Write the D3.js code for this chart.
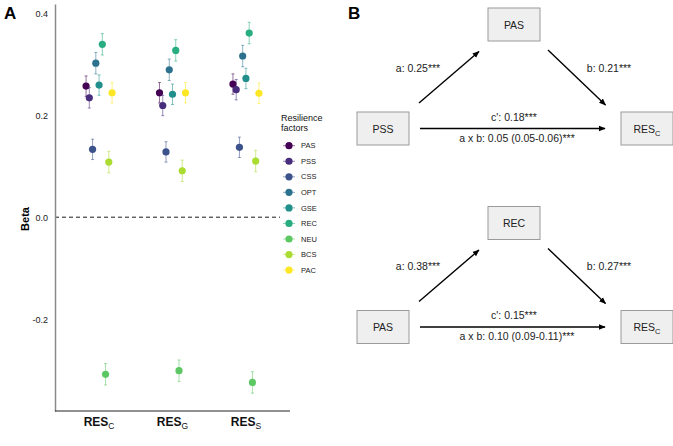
<!DOCTYPE html>
<html>
<head>
<meta charset="utf-8">
<script src="https://cdn.jsdelivr.net/npm/d3@7"></script>
<style>
  body { margin: 0; background: #fff; }
  svg { font-family: "Liberation Sans", Arial, sans-serif; }
</style>
</head>
<body>
<svg id="chart" width="673" height="446"></svg>
<script>
// panel A data
const outcomes = ['C', 'G', 'S'];
const factors = ['PAS', 'PSS', 'CSS', 'OPT', 'GSE', 'REC', 'NEU', 'BCS', 'PAC'];
const colors = ['#440154', '#472D7B', '#3B528B', '#2C728E', '#21908C', '#27AD81', '#5DC863', '#AADC32', '#FDE725'];
const betaC = [0.257, 0.234, 0.133, 0.302, 0.259, 0.339, -0.308, 0.108, 0.244];
const betaG = [0.244, 0.219, 0.128, 0.289, 0.241, 0.327, -0.301, 0.091, 0.244];
const betaS = [0.261, 0.250, 0.137, 0.316, 0.272, 0.361, -0.324, 0.110, 0.243];
const errC = [0.020, 0.020, 0.020, 0.021, 0.020, 0.021, 0.021, 0.021, 0.020];
const errG = [0.020, 0.020, 0.020, 0.021, 0.020, 0.021, 0.021, 0.021, 0.020];
const errS = [0.020, 0.020, 0.020, 0.021, 0.020, 0.021, 0.021, 0.021, 0.020];
const yTicks = [-0.2, 0.0, 0.2, 0.4];

// panel B data
const mediations = [
  {x: 'PSS', m: 'PAS', a: 'a: 0.25***', b: 'b: 0.21***', c: "c': 0.18***", ab: 'a x b: 0.05 (0.05-0.06)***'},
  {x: 'PAS', m: 'REC', a: 'a: 0.38***', b: 'b: 0.27***', c: "c': 0.15***", ab: 'a x b: 0.10 (0.09-0.11)***'}
];

const svg = d3.select('#chart');

// ---------- panel A ----------
const betas = [betaC, betaG, betaS];
const errs = [errC, errG, errS];
const rows = [];
outcomes.forEach((o, j) => {
  factors.forEach((f, i) => {
    rows.push({out: o, factor: f, i: i, beta: betas[j][i], err: errs[j][i]});
  });
});

const pLeft = 55, pRight = 290, pTop = 4, pBottom = 411;

const x = d3.scalePoint().domain(outcomes).range([pLeft, pRight]).padding(0.6);
const dodge = d3.scaleLinear().domain([0, factors.length - 1]).range([-13, 13]);
const y = d3.scaleLinear().domain([-0.38, 0.418]).range([pBottom, pTop]);
const color = d3.scaleOrdinal().domain(factors).range(colors);

const gA = svg.append('g');

gA.append('text')
  .attr('x', 4).attr('y', 19)
  .attr('font-size', 17).attr('font-weight', 'bold')
  .text('A');

// zero line
gA.append('line')
  .attr('x1', pLeft).attr('x2', 280)
  .attr('y1', y(0)).attr('y2', y(0))
  .attr('stroke', '#000').attr('stroke-width', 0.9)
  .attr('stroke-dasharray', '4,3');

// axes
const yAxis = gA.append('g')
  .attr('transform', 'translate(' + pLeft + ',0)')
  .call(d3.axisLeft(y).tickValues(yTicks).tickSize(0).tickPadding(7)
    .tickFormat(d => d.toFixed(1)));
yAxis.select('.domain').attr('stroke', '#8a8a8a').attr('stroke-width', 1.5);
yAxis.selectAll('text').attr('font-size', 9).attr('fill', '#222')
  .attr('font-family', '"Liberation Sans", Arial, sans-serif');

const xAxis = gA.append('g')
  .attr('transform', 'translate(0,' + pBottom + ')')
  .call(d3.axisBottom(x).tickSize(0).tickFormat(''));
xAxis.select('.domain').attr('stroke', '#222').attr('stroke-width', 1.2)
  .attr('d', 'M' + pLeft + ',0H' + pRight);

outcomes.forEach(o => {
  const t = gA.append('text')
    .attr('x', x(o)).attr('y', 426)
    .attr('text-anchor', 'middle')
    .attr('font-size', 12).attr('font-weight', 'bold').attr('fill', '#111');
  t.append('tspan').text('RES');
  t.append('tspan').attr('dy', 3).attr('font-size', 8.5).attr('font-weight', 'normal').text(o);
});

gA.append('text')
  .attr('transform', 'translate(29,' + 219 + ') rotate(-90)')
  .attr('text-anchor', 'middle')
  .attr('font-size', 11).attr('font-weight', 'bold')
  .text('Beta');

// error bars + points
const pts = gA.append('g').selectAll('g')
  .data(rows)
  .join('g')
  .attr('transform', d => 'translate(' + (x(d.out) + dodge(d.i)) + ',0)');

pts.append('line')
  .attr('y1', d => y(d.beta - d.err)).attr('y2', d => y(d.beta + d.err))
  .attr('stroke', d => color(d.factor)).attr('stroke-opacity', 0.55).attr('stroke-width', 1);
pts.append('path')
  .attr('d', d => 'M-1.5,' + y(d.beta - d.err) + 'H1.5M-1.5,' + y(d.beta + d.err) + 'H1.5')
  .attr('stroke', d => color(d.factor)).attr('stroke-opacity', 0.55).attr('stroke-width', 1);
pts.append('circle')
  .attr('cy', d => y(d.beta)).attr('r', 3.6)
  .attr('fill', d => color(d.factor));

// legend
const lg = gA.append('g').attr('transform', 'translate(281,0)');
lg.append('text').attr('y', 121).attr('font-size', 9).attr('fill', '#111').text('Resilience');
lg.append('text').attr('y', 131).attr('font-size', 9).attr('fill', '#111').text('factors');
const li = lg.selectAll('g.item')
  .data(factors)
  .join('g')
  .attr('class', 'item')
  .attr('transform', (d, i) => 'translate(0,' + (145.7 + i * 15.55) + ')');
li.append('line').attr('x1', 2).attr('x2', 14)
  .attr('stroke', d => color(d)).attr('stroke-opacity', 0.55).attr('stroke-width', 1);
li.append('circle').attr('cx', 8).attr('r', 3.6).attr('fill', d => color(d));
li.append('text').attr('x', 20).attr('dy', '0.35em')
  .attr('font-size', 7.5).attr('fill', '#222').text(d => d);

// ---------- panel B ----------
const gB = svg.append('g');
gB.append('text')
  .attr('x', 348).attr('y', 19)
  .attr('font-size', 17).attr('font-weight', 'bold')
  .text('B');

svg.append('defs').append('marker')
  .attr('id', 'arrow')
  .attr('viewBox', '0 0 10 10')
  .attr('refX', 9).attr('refY', 5)
  .attr('markerWidth', 5).attr('markerHeight', 5)
  .attr('orient', 'auto')
  .append('path').attr('d', 'M0,1L10,5L0,9Z').attr('fill', '#000');

const boxW = 52, boxH = 33;
const rowY = d3.scalePoint().domain(d3.range(mediations.length)).range([8, 206.5]);
const col = {x: 357, m: 488, y: 621};

function box(g, bx, by, label, sub) {
  g.append('rect')
    .attr('x', bx).attr('y', by).attr('width', boxW).attr('height', boxH)
    .attr('fill', '#efefef').attr('stroke', '#9a9a9a').attr('stroke-width', 1);
  const t = g.append('text')
    .attr('x', bx + boxW / 2).attr('y', by + boxH / 2 + 4)
    .attr('text-anchor', 'middle').attr('font-size', 10.5).attr('fill', '#222');
  t.append('tspan').text(label);
  if (sub) t.append('tspan').attr('dy', 3).attr('font-size', 7.5).text(sub);
}

function arrow(g, x1, y1, x2, y2) {
  g.append('line')
    .attr('x1', x1).attr('y1', y1).attr('x2', x2).attr('y2', y2)
    .attr('stroke', '#000').attr('stroke-width', 1.4)
    .attr('marker-end', 'url(#arrow)');
}

function label(g, lx, ly, txt) {
  g.append('text')
    .attr('x', lx).attr('y', ly).attr('dy', '0.35em')
    .attr('text-anchor', 'middle').attr('font-size', 10.5).attr('fill', '#222')
    .text(txt);
}

mediations.forEach((m, k) => {
  const g = gB.append('g').attr('transform', 'translate(0,' + rowY(k) + ')');
  const midY = 104 + boxH / 2; // x and y boxes row (relative)
  box(g, col.m, 0, m.m);
  box(g, col.x, 104, m.x);
  box(g, col.y, 104, 'RES', 'C');
  arrow(g, 419, 95, 479, 43.5);
  arrow(g, 548, 42, 605.5, 97);
  arrow(g, 420, midY, 605, midY);
  label(g, 418, 60, m.a);
  label(g, 609, 60, m.b);
  label(g, 514, 109, m.c);
  label(g, 517, 130, m.ab);
});
</script>
</body>
</html>
